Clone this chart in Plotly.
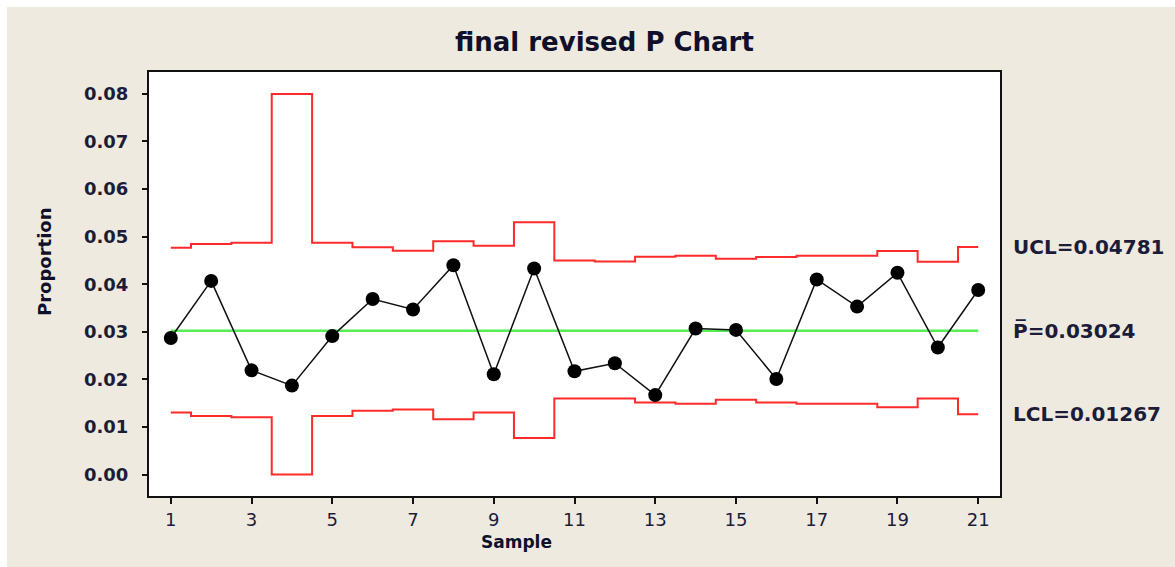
import plotly.graph_objects as go

samples = list(range(1, 22))
proportion = [0.0287, 0.0407, 0.0219, 0.0187, 0.0291, 0.0369, 0.0347, 0.0440, 0.0211, 0.0433,
              0.0217, 0.0234, 0.0167, 0.0307, 0.0304, 0.0201, 0.0410, 0.0353, 0.0424, 0.0267, 0.0388]
ucl = [0.04767, 0.04844, 0.04872, 0.08000, 0.04872, 0.04775, 0.04704, 0.04901, 0.04809, 0.05301,
       0.04501, 0.04480, 0.04578, 0.04599, 0.04536, 0.04571, 0.04599, 0.04599, 0.04697, 0.04473, 0.04781]
lcl = [0.01304, 0.01233, 0.01205, 0.00000, 0.01233, 0.01339, 0.01367, 0.01163, 0.01304, 0.00770,
       0.01598, 0.01598, 0.01514, 0.01486, 0.01570, 0.01514, 0.01486, 0.01486, 0.01416, 0.01598, 0.01267]
p_bar = 0.03024
ucl_last = 0.04781
lcl_last = 0.01267
x_ticks = list(range(1, 22, 2))
y_ticks = [0.00, 0.01, 0.02, 0.03, 0.04, 0.05, 0.06, 0.07, 0.08]

BG = "#EEEAE0"
TXT = "#1c1c38"
FONT = "DejaVu Sans"

fig = go.Figure()
fig.add_trace(go.Scatter(x=samples, y=ucl, mode="lines", line=dict(color="#FF2A2A", width=2, shape="hvh"),
                         hoverinfo="skip"))
fig.add_trace(go.Scatter(x=samples, y=lcl, mode="lines", line=dict(color="#FF2A2A", width=2, shape="hvh"),
                         hoverinfo="skip"))
fig.add_trace(go.Scatter(x=[samples[0], samples[-1]], y=[p_bar, p_bar], mode="lines",
                         line=dict(color="#55EE55", width=2.5), hoverinfo="skip"))
fig.add_trace(go.Scatter(x=samples, y=proportion, mode="lines+markers",
                         line=dict(color="#111111", width=1.5),
                         marker=dict(color="#000000", size=14)))

fig.update_layout(
    width=1175, height=567,
    margin=dict(l=149, r=175, t=72, b=71),
    paper_bgcolor=BG, plot_bgcolor="#FFFFFF",
    showlegend=False,
    font=dict(family=FONT, color=TXT),
    xaxis=dict(range=[0.46, 21.54], tickmode="array", tickvals=x_ticks, ticktext=[str(v) for v in x_ticks],
               showgrid=False, zeroline=False, showline=True, linecolor="#111111", linewidth=2, mirror=True,
               ticks="outside", ticklen=6, tickwidth=2, tickcolor="#111111",
               tickfont=dict(family=FONT, size=18, color=TXT)),
    yaxis=dict(range=[-0.0045, 0.0846], tickmode="array", tickvals=y_ticks,
               ticktext=[f"{v:.2f}" for v in y_ticks],
               showgrid=False, zeroline=False, showline=True, linecolor="#111111", linewidth=2, mirror=True,
               ticks="outside", ticklen=5, tickwidth=2, tickcolor="#111111", ticklabelstandoff=10,
               tickfont=dict(family=FONT, size=18, color=TXT, weight="bold")),
)

annotations = [
    dict(text="<b>final revised P Chart</b>", xref="paper", yref="paper", x=0.5358, y=1.0708,
         xanchor="center", yanchor="middle", showarrow=False, font=dict(family=FONT, size=26, color="#10102a")),
    dict(text="<b>Sample</b>", xref="paper", yref="paper", x=0.4313, y=-0.108,
         xanchor="center", yanchor="middle", showarrow=False, font=dict(family=FONT, size=17, color="#10102a")),
    dict(text="<b>Proportion</b>", xref="paper", yref="paper", x=-0.1222, y=0.5519, textangle=-90,
         xanchor="center", yanchor="middle", showarrow=False, font=dict(family=FONT, size=18, color="#10102a")),
    dict(text=f"UCL={ucl_last:.5f}", xref="paper", yref="y", x=1.0129, y=ucl_last,
         xanchor="left", yanchor="middle", showarrow=False, font=dict(family=FONT, size=20, color=TXT, weight="bold")),
    dict(text=f"P\u0305={p_bar:.5f}", xref="paper", yref="y", x=1.0129, y=p_bar,
         xanchor="left", yanchor="middle", showarrow=False, font=dict(family=FONT, size=20, color=TXT, weight="bold")),
    dict(text=f"LCL={lcl_last:.5f}", xref="paper", yref="y", x=1.0129, y=lcl_last,
         xanchor="left", yanchor="middle", showarrow=False, font=dict(family=FONT, size=20, color=TXT, weight="bold")),
]
fig.update_layout(annotations=annotations)

# thin white border at top and left of the picture
fig.add_shape(type="rect", xref="paper", yref="paper", x0=-0.18, x1=1.3, y0=1.1533, y1=1.18,
              fillcolor="#FFFFFF", line=dict(width=0), layer="below")
fig.add_shape(type="rect", xref="paper", yref="paper", x0=-0.18, x1=-0.16686, y0=-0.2, y1=1.18,
              fillcolor="#FFFFFF", line=dict(width=0), layer="below")

fig.write_html("out.html")
